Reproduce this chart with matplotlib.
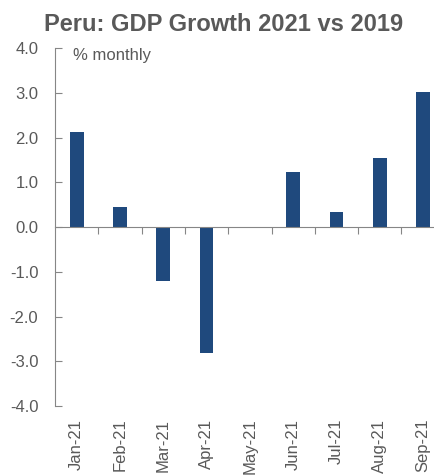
"""
Peru: GDP growth 2021 vs 2019, monthly bar chart.
"""

import numpy as np
import matplotlib.pyplot as plt
from matplotlib import transforms

# -----------------------------
# Data
# -----------------------------
months = ["Jan-21", "Feb-21", "Mar-21", "Apr-21", "May-21",
          "Jun-21", "Jul-21", "Aug-21", "Sep-21"]
growth = [2.12, 0.44, -1.21, -2.82, -0.02, 1.24, 0.33, 1.55, 3.01]
y_ticks = [-4.0, -3.0, -2.0, -1.0, 0.0, 1.0, 2.0, 3.0, 4.0]

# -----------------------------
# Style
# -----------------------------
plt.rcParams["font.family"] = ["Liberation Sans", "DejaVu Sans"]
text_col = "#595959"
axis_col = "#868686"
bar_col = "#1F497D"

fig = plt.figure(figsize=(4.35, 4.76), dpi=100)
ax = fig.add_axes([0.1264, 0.147, 0.896, 0.752])

x = np.arange(len(months))
ax.bar(x, growth, width=0.32, color=bar_col, zorder=3)

ax.set_xlim(-0.5, len(months) - 0.5)
ax.set_ylim(-4.0, 4.0)
ax.set_yticks(y_ticks)
ax.set_yticklabels([f"{v:.1f}" for v in y_ticks])

for side in ["top", "right"]:
    ax.spines[side].set_visible(False)
ax.spines["left"].set_color(axis_col)
ax.spines["bottom"].set_color(axis_col)
ax.spines["bottom"].set_position(("data", 0))
ax.spines["bottom"].set_zorder(4)

ax.tick_params(axis="y", direction="in", length=5, color=axis_col,
               labelsize=12, labelcolor=text_col, pad=12)
ax.set_xticks(np.arange(0.5, len(months) - 1))
ax.tick_params(axis="x", direction="out", length=5, color=axis_col,
               labelbottom=False)

# month labels below the plot
trans = transforms.blended_transform_factory(ax.transData, ax.transAxes)
for i, m in enumerate(months):
    ax.text(i, -0.035, m, rotation=90, ha="center", va="top",
            fontsize=12, color=text_col, transform=trans)

ax.text(0.046, 0.98, "% monthly", transform=ax.transAxes,
        ha="left", va="center", fontsize=12, color=text_col)

fig.text(0.515, 0.948, "Peru: GDP Growth 2021 vs 2019", ha="center",
         va="center", fontsize=17, fontweight="bold", color=text_col)

fig.savefig("out.png", dpi=100)
